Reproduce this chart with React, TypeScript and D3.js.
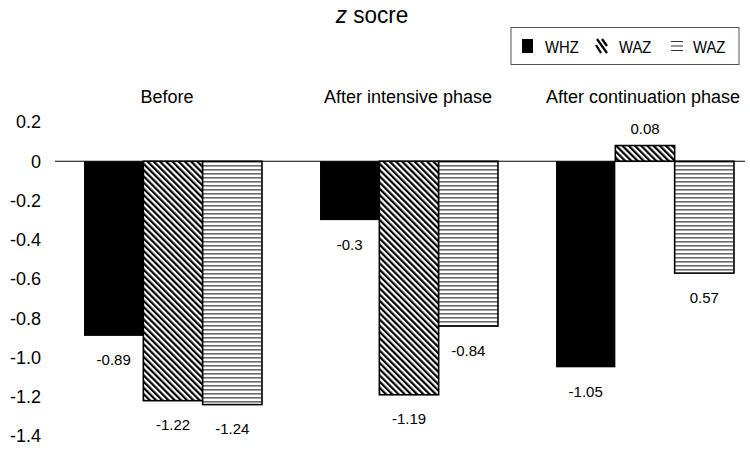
import React from "react";
import * as d3 from "d3";

const categories = ["Before", "After intensive phase", "After continuation phase"];
const seriesNames = ["WHZ", "WAZ", "WAZ2"];
const legendLabels = ["WHZ", "WAZ", "WAZ"];
const whz = [-0.89, -0.3, -1.05];
const waz = [-1.22, -1.19, 0.08];
const waz2 = [-1.24, -0.84, -0.57];
const valueLabels = [
  ["-0.89", "-0.3", "-1.05"],
  ["-1.22", "-1.19", "0.08"],
  ["-1.24", "-0.84", "0.57"],
];
const yTicks = [0.2, 0, -0.2, -0.4, -0.6, -0.8, -1.0, -1.2, -1.4];
const tickLabels = ["0.2", "0", "-0.2", "-0.4", "-0.6", "-0.8", "-1.0", "-1.2", "-1.4"];

const W = 750;
const H = 463;
const FONT = "'Liberation Sans', Arial, sans-serif";

function T({ x, y, size, anchor = "start", children, dy, sx = 1 }: any) {
  return (
    <text
      transform={`translate(${x},${y}) scale(${sx},1)`}
      textAnchor={anchor}
      fontSize={size}
      dy={dy}
    >
      {children}
    </text>
  );
}

export default function App() {
  const series = [whz, waz, waz2];
  const y = d3.scaleLinear().domain([0.2, -1.4]).range([122, 436]);
  const x0 = d3.scaleBand<string>().domain(categories).range([55, 763]).paddingInner(0.246).paddingOuter(0.123);
  const x1 = d3.scaleBand<string>().domain(seriesNames).range([0, x0.bandwidth()]).padding(0);
  const fills = ["#000", "url(#diag)", "url(#horiz)"];
  const catLabelX = [167, 408, 643];

  return (
    <svg width={W} height={H} style={{ position: "absolute", left: 0, top: 0, background: "#fff" }} fontFamily={FONT}>
      <defs>
        <pattern id="diag" width="4.4" height="4.4" patternUnits="userSpaceOnUse" patternTransform="rotate(-45)">
          <rect width="4.4" height="4.4" fill="#fff" />
          <rect width="2.2" height="4.4" fill="#000" />
        </pattern>
        <pattern id="horiz" width="4" height="4" patternUnits="userSpaceOnUse">
          <rect width="4" height="4" fill="#fff" />
          <rect y="1" width="4" height="1.6" fill="#6a6a6a" />
        </pattern>
      </defs>
      <T x={372} y={23} size={23} anchor="middle" sx={0.98}>
        <tspan fontStyle="italic">z</tspan> socre
      </T>
      {/* legend */}
      <rect x={511} y={27.5} width={228} height={37} fill="#fff" stroke="#555" strokeWidth={1} />
      <g>
        <rect x={522} y={39} width={11} height={14} fill="#000" />
        <T x={545} y={53} size={16.5} sx={0.9}>{legendLabels[0]}</T>
        <g>
          <line x1={597} y1={39} x2={607} y2={53} stroke="#000" strokeWidth={2.2} />
          <line x1={596} y1={45} x2={601} y2={53} stroke="#000" strokeWidth={2.2} />
          <line x1={602} y1={39} x2={607} y2={46} stroke="#000" strokeWidth={2.2} />
        </g>
        <T x={619} y={53} size={16.5} sx={0.9}>{legendLabels[1]}</T>
        <g stroke="#333" strokeWidth={1}>
          <line x1={671} y1={41.5} x2={683} y2={41.5} />
          <line x1={671} y1={46} x2={683} y2={46} />
          <line x1={671} y1={50.5} x2={683} y2={50.5} />
        </g>
        <T x={693} y={53} size={16.5} sx={0.9}>{legendLabels[2]}</T>
      </g>
      {/* category labels */}
      {categories.map((c, i) => (
        <T key={c} x={catLabelX[i]} y={103} size={18} anchor="middle">{c}</T>
      ))}
      {/* y tick labels */}
      {yTicks.map((t, i) => (
        <T key={i} x={41} y={y(t)} dy="0.36em" size={18} anchor="end">{tickLabels[i]}</T>
      ))}
      {/* bars */}
      {categories.map((c, ci) => (
        <g key={c} transform={`translate(${x0(c)},0)`}>
          {series.map((s, si) => {
            const v = s[ci];
            const top = Math.min(y(v), y(0));
            const h = Math.abs(y(v) - y(0));
            const bx = x1(seriesNames[si])!;
            const bw = x1.bandwidth();
            return (
              <g key={si}>
                <rect x={bx} y={top} width={bw} height={h} fill={fills[si]} stroke="#000" strokeWidth={si === 0 ? 0 : 1.6} />
                <T
                  x={bx + bw / 2}
                  y={v >= 0 ? y(v) - 17 : y(v) + 24}
                  dy="0.36em"
                  anchor="middle"
                  size={15}
                >
                  {valueLabels[si][ci]}
                </T>
              </g>
            );
          })}
        </g>
      ))}
      <line x1={55} x2={745} y1={y(0)} y2={y(0)} stroke="#000" strokeWidth={1.2} />
    </svg>
  );
}
